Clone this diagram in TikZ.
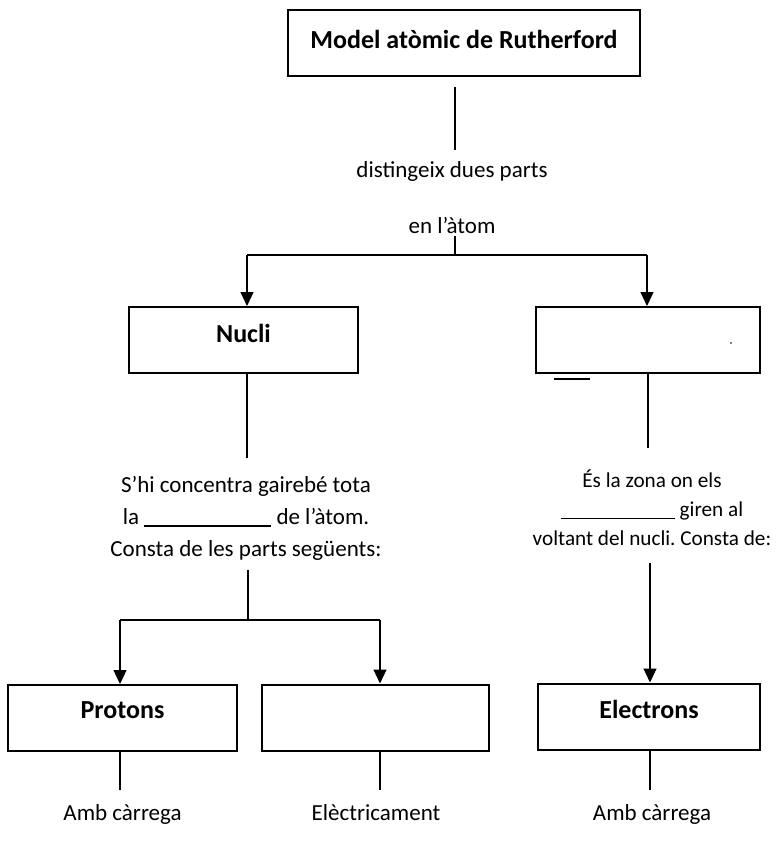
\documentclass[tikz,border=0pt]{standalone}
\usepackage{fontspec}
\setmainfont{Carlito}
\usepackage{tikz}
\usetikzlibrary{arrows.meta, positioning}
\frenchspacing

\tikzset{
    caixa/.style={draw, line width=1pt, minimum width=#1, minimum height=33pt, inner sep=0pt,
        text height=9pt, text depth=7pt, font=\fontsize{13}{15}\selectfont\bfseries},
    caixa/.default=114pt,
    escrit/.style={align=center, inner sep=0pt, font=\fontsize{11.5}{#1}\selectfont},
    escrit/.default=14,
    linia/.style={line width=0.6pt},
    >={Triangle[length=7pt, width=6.5pt]}
}

\begin{document}
\begin{tikzpicture}[x=0.5pt, y=-0.5pt]
                        \useasboundingbox (0,0) rectangle (779,850);
                        % caixes
                        \node[caixa=176pt, text depth=3.5pt] (model) at (464, 43.5) {Model atòmic de Rutherford};
                        \node[caixa=114.5pt] (nucli) at (243.5, 340) {Nucli};
                        \node[caixa=112pt] (escorca) at (648, 340) {};
                        \node[caixa=114.5pt, text depth=8.5pt] (protons) at (122.5, 718) {Protons};
                        \node[caixa=113.5pt] (neutrons) at (375.5, 717.5) {};
                        \node[caixa=111pt, text depth=7.5pt] (electrons) at (649, 716.5) {Electrons};
                        % textos
                        \node[escrit, anchor=base] (parts) at (452, 177) {distingeix dues parts};
                        \node[escrit, anchor=base] (atom) at (452, 234) {en l’àtom};
                        \node[escrit=16] (massa) at (246, 518)
                            {S’hi concentra gairebé tota\\la \rule[-1.2pt]{63.5pt}{0.75pt} de l’àtom.\\Consta de les parts següents:};
                        \node[escrit, font=\fontsize{10.6}{14.5}\selectfont] (zona) at (652, 508)
                            {És la zona on els\\\rule[-1.2pt]{57pt}{0.6pt} giren al\\voltant del nucli. Consta de:};
                        \node[escrit, anchor=base] (carrega1) at (122.5, 820) {Amb càrrega};
                        \node[escrit, anchor=base] (electric) at (376, 820) {Elèctricament};
                        \node[escrit, anchor=base] (carrega2) at (652, 820) {Amb càrrega};
                        % punts de pas
                        \coordinate (m1) at (455, 87);
                        \coordinate (m2) at (455, 150);
                        \coordinate (m3) at (455, 236);
                        \coordinate (m4) at (455, 255);
                        \coordinate (ne) at (247, 255);
                        \coordinate (es) at (647, 255);
                        \coordinate (n1) at (247, 458);
                        \coordinate (n2) at (248, 570);
                        \coordinate (n3) at (248, 620);
                        \coordinate (pr) at (120, 620);
                        \coordinate (nt) at (380, 620);
                        \coordinate (e1) at (648, 448);
                        \coordinate (e2) at (650, 563);
                        \coordinate (b1) at (120, 790);
                        \coordinate (b2) at (380, 790);
                        \coordinate (b3) at (650, 790);
                        \draw[linia]
                        (m1) -- (m2)
                        (m3) -- (m4)
                        (ne) -- (es)
                        (ne) edge[->] (ne |- nucli.north)
                        (es) edge[->] (es |- escorca.north)
                        (n1 |- nucli.south) -- (n1)
                        (e1 |- escorca.south) -- (e1)
                        (n2) -- (n3)
                        (pr) -- (nt)
                        (pr) edge[->] (pr |- protons.north)
                        (nt) edge[->] (nt |- neutrons.north)
                        (e2) edge[->] (e2 |- electrons.north)
                        (b1 |- protons.south) -- (b1)
                        (b2 |- neutrons.south) -- (b2)
                        (b3 |- electrons.south) -- (b3);
                        % marques soltes
                        \draw[line width=1pt] (554, 379) -- (590, 379);
                        \fill (731, 343) circle (0.4pt);
                    \end{tikzpicture}
\end{document}
